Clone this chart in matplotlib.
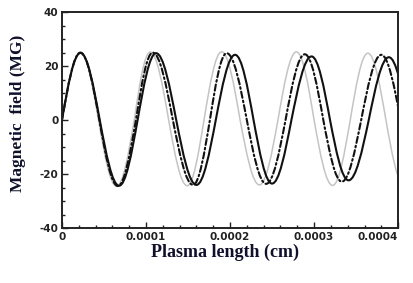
import numpy as np
import matplotlib
matplotlib.use("Agg")
import matplotlib.pyplot as plt
from matplotlib.path import Path
from matplotlib.patches import PathPatch

# ---- data (x in units of 1e-4 cm, field in MG) ----
# keypoints: zero crossings and extrema of each oscillating curve
gray_x = [0, 0.22, 0.435, 0.65, 0.86, 1.05, 1.27, 1.49, 1.69, 1.90, 2.12, 2.35,
          2.57, 2.79, 3.00, 3.22, 3.43, 3.64, 3.855, 4.07]
gray_y = [0, 25.0, 0, -24.5, 0, 25.2, 0, -24.3, 0, 25.3, 0, -24.0,
          0, 25.3, 0, -24.2, 0, 24.8, 0, -24.0]

dashdot_x = [0, 0.22, 0.445, 0.665, 0.88, 1.08, 1.32, 1.56, 1.76, 1.96, 2.20,
             2.43, 2.66, 2.89, 3.11, 3.33, 3.56, 3.80, 4.03]
dashdot_y = [0, 25.0, 0, -24.4, 0, 25.0, 0, -24.0, 0, 24.8, 0,
             -23.6, 0, 24.4, 0, -22.8, 0, 24.2, 0]

solid_x = [0, 0.22, 0.45, 0.68, 0.90, 1.12, 1.36, 1.60, 1.83, 2.06, 2.28,
           2.50, 2.73, 2.97, 3.19, 3.41, 3.65, 3.89, 4.12]
solid_y = [0, 24.9, 0, -24.3, 0, 24.8, 0, -24.0, 0, 24.2, 0,
           -23.5, 0, 23.6, 0, -22.3, 0, 23.3, 0]

x_ticks = [0, 0.0001, 0.0002, 0.0003, 0.0004]
x_ticklabels = ["0", "0.0001", "0.0002", "0.0003", "0.0004"]
y_ticks = [-40, -20, 0, 20, 40]
y_ticklabels = ["-40", "-20", "0", "20", "40"]
x_unit = 1e-4


def wave_path(xs, ys):
    """Smooth path through zero crossings / extrema using cubic Bezier quarter-waves."""
    verts = [(xs[0], ys[0])]
    codes = [Path.MOVETO]
    for x0, y0, x1, y1 in zip(xs[:-1], ys[:-1], xs[1:], ys[1:]):
        dx = x1 - x0
        if abs(y0) < abs(y1):
            c1 = (x0 + 0.326 * dx, y0 + 0.512 * (y1 - y0))
            c2 = (x0 + 0.638 * dx, y1)
        else:
            c1 = (x0 + 0.362 * dx, y0)
            c2 = (x0 + 0.674 * dx, y1 + 0.512 * (y0 - y1))
        verts += [c1, c2, (x1, y1)]
        codes += [Path.CURVE4] * 3
    return Path(verts, codes)


fig = plt.figure(figsize=(4.13, 2.83), dpi=100)
ax = fig.add_axes([0.150, 0.194, 0.814, 0.763])

curves = [
    (gray_x, gray_y, dict(edgecolor="#c4c4c4", linewidth=1.1, linestyle="-")),
    (dashdot_x, dashdot_y, dict(edgecolor="#111111", linewidth=1.5,
                                linestyle=(0, (3.0, 1.4, 0.8, 1.4)))),
    (solid_x, solid_y, dict(edgecolor="#111111", linewidth=1.5, linestyle="-")),
]
for xs, ys, style in curves:
    p = wave_path([v * x_unit for v in xs], ys)
    ax.add_patch(PathPatch(p, facecolor="none", transform=ax.transData,
                           capstyle="round", **style))

ax.set_xlim(0, 0.0004)
ax.set_ylim(-40, 40)

ax.set_xticks(x_ticks)
ax.set_xticklabels(x_ticklabels)
ax.set_yticks(y_ticks)
ax.set_yticklabels(y_ticklabels)
ax.set_xticks(np.arange(0, 0.0004 + 1e-9, 0.00002), minor=True)
ax.set_yticks(np.arange(-40, 41, 5), minor=True)

ax.tick_params(which="both", direction="in", top=False, right=False,
               colors="#222222", width=1.0)
ax.tick_params(which="major", length=4, pad=2.5)
ax.tick_params(which="minor", length=2)
for lab in ax.get_xticklabels() + ax.get_yticklabels():
    lab.set_fontfamily("DejaVu Sans")
    lab.set_fontweight("bold")
    lab.set_fontsize(7.5)
    lab.set_color("#222222")
ax.get_xticklabels()[-1].set_horizontalalignment("right")

for s in ax.spines.values():
    s.set_linewidth(1.4)
    s.set_color("#222222")

ax.set_xlabel("Plasma length (cm)", fontfamily="Liberation Serif",
              fontweight="bold", fontsize=13, color="#10102a", va="center")
ax.xaxis.set_label_coords(0.485, -0.111)
ax.set_ylabel("Magnetic  field (MG)", fontfamily="Liberation Serif",
              fontweight="bold", fontsize=12.5, color="#10102a", va="center")
ax.yaxis.set_label_coords(-0.131, 0.532)

fig.savefig("out.png", dpi=100)
